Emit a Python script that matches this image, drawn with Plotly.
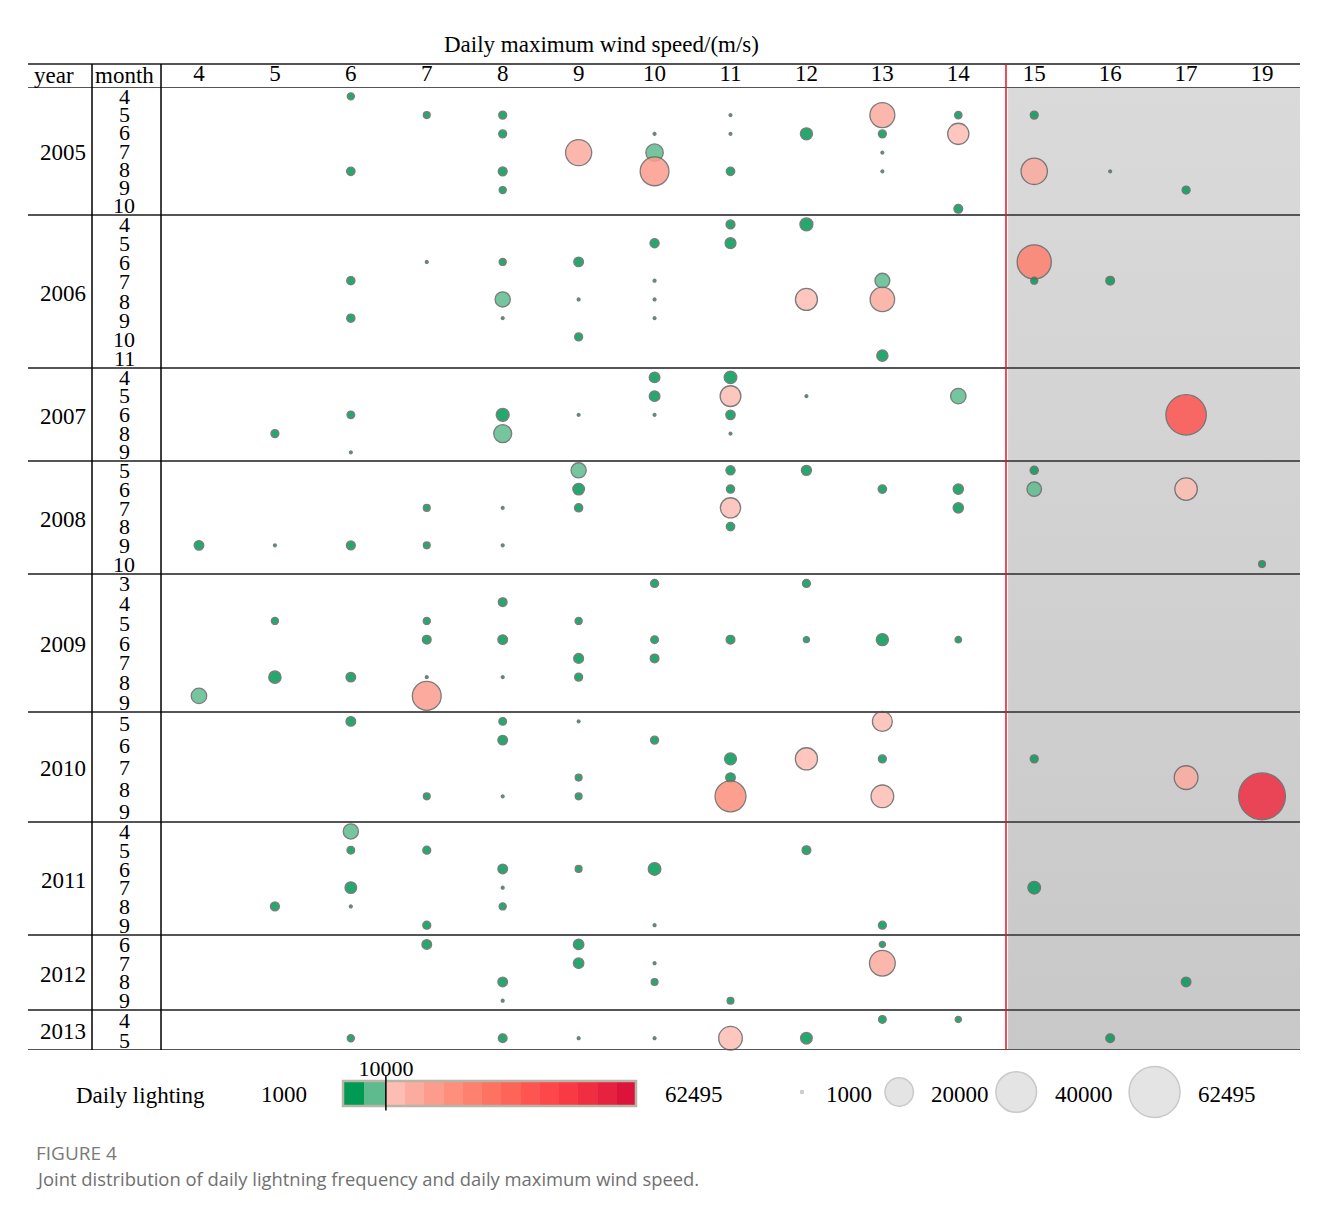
import numpy as np
import plotly.graph_objects as go

# page pixels (reference) -> figure placed with the default 8px body margin
OFF = 8
W, H = 1312, 1193

# ---------------- data ----------------
wind_speeds = [4, 5, 6, 7, 8, 9, 10, 11, 12, 13, 14, 15, 16, 17, 19]
block_years = [2005, 2006, 2007, 2008, 2009, 2010, 2011, 2012, 2013]
block_months = [
    [4, 5, 6, 7, 8, 9, 10],
    [4, 5, 6, 7, 8, 9, 10, 11],
    [4, 5, 6, 8, 9],
    [5, 6, 7, 8, 9, 10],
    [3, 4, 5, 6, 7, 8, 9],
    [5, 6, 7, 8, 9],
    [4, 5, 6, 7, 8, 9],
    [6, 7, 8, 9],
    [4, 5],
]
bubble_counts = [26, 23, 16, 22, 22, 19, 16, 11, 9]   # bubbles per year, in order
bubble_month = [
    4, 5, 5, 6, 8, 8, 9, 7, 6, 7, 8, 5, 6, 8, 6, 5, 6, 7, 8, 5, 6, 10, 5, 8, 8, 9,          # 2005
    7, 9, 6, 6, 8, 9, 6, 8, 10, 5, 7, 8, 9, 4, 5, 4, 8, 7, 8, 11, 6, 7, 7,                  # 2006
    8, 6, 9, 6, 8, 6, 4, 5, 6, 4, 5, 6, 8, 5, 5, 6,                                         # 2007
    9, 9, 9, 7, 9, 7, 9, 5, 6, 7, 5, 6, 7, 8, 5, 6, 6, 7, 5, 6, 6, 10,                      # 2008
    9, 5, 8, 8, 5, 6, 8, 9, 4, 6, 8, 5, 7, 8, 3, 6, 7, 6, 3, 6, 6, 6,                       # 2009
    5, 9, 5, 6, 9, 5, 8, 9, 6, 7, 8, 9, 7, 5, 7, 9, 7, 8, 9,                                # 2010
    8, 4, 5, 7, 8, 5, 9, 6, 7, 8, 6, 6, 9, 5, 9, 7,                                         # 2011
    6, 8, 9, 6, 7, 7, 8, 9, 6, 7, 8,                                                        # 2012
    5, 5, 5, 5, 5, 5, 4, 4, 5,                                                              # 2013
]
bubble_wind = [
    6, 7, 8, 8, 6, 8, 8, 9, 10, 10, 10, 11, 11, 11, 12, 13, 13, 13, 13, 14, 14, 14, 15, 15, 16, 17,
    6, 6, 7, 8, 8, 8, 9, 9, 9, 10, 10, 10, 10, 11, 11, 12, 12, 13, 13, 13, 15, 15, 16,
    5, 6, 6, 8, 8, 9, 10, 10, 10, 11, 11, 11, 11, 12, 14, 17,
    4, 5, 6, 7, 7, 8, 8, 9, 9, 9, 11, 11, 11, 11, 12, 13, 14, 14, 15, 15, 17, 19,
    4, 5, 5, 6, 7, 7, 7, 7, 8, 8, 8, 9, 9, 9, 10, 10, 10, 11, 12, 12, 13, 14,
    6, 7, 8, 8, 8, 9, 9, 9, 10, 11, 11, 11, 12, 13, 13, 13, 15, 17, 19,
    5, 6, 6, 6, 6, 7, 7, 8, 8, 8, 9, 10, 10, 12, 13, 15,
    7, 8, 8, 9, 9, 10, 10, 11, 13, 13, 17,
    6, 8, 9, 10, 11, 12, 13, 14, 16,
]
bubble_lightning = [
    2000, 1900, 2300, 2300, 2500, 2700, 2000, 17000, 1000, 8000, 20500, 1000, 1000, 2500, 4300,
    15500, 2300, 1000, 1000, 2100, 11500, 2600, 2300, 17200, 1000, 2300,
    2400, 2400, 1000, 2000, 6300, 1000, 3000, 1000, 2300, 2800, 1000, 1000, 1000, 2700, 3600,
    4800, 12300, 6000, 15000, 3800, 28500, 2000, 2600,
    2300, 2200, 1000, 4800, 8500, 1000, 3500, 3500, 1000, 4600, 11000, 2900, 1000, 1000, 6500, 39500,
    3000, 1000, 2700, 1900, 1900, 1000, 1000, 6300, 4000, 2400, 2800, 2400, 10500, 2500, 3200,
    2500, 3300, 3300, 2400, 5800, 12800, 1900,
    6500, 2000, 4400, 3000, 2000, 2600, 1000, 20500, 2600, 3000, 1000, 2000, 3100, 2300, 2300,
    2200, 2600, 2600, 2300, 1700, 4300, 1800,
    3000, 1900, 2200, 3000, 1000, 1000, 1900, 1900, 2300, 4200, 3000, 23500, 12500, 10200, 2300,
    13000, 2300, 14200, 52700,
    2700, 6300, 2200, 4000, 1000, 2300, 2300, 3000, 1000, 2000, 1900, 4600, 1000, 2600, 2300, 4600,
    3000, 3000, 1000, 3400, 3400, 1000, 1900, 1900, 1700, 16500, 3000,
    2000, 2600, 1000, 1000, 14000, 4000, 2200, 1700, 2600,
]
bubble_year = [yr for yr, n in zip(block_years, bubble_counts) for _ in range(n)]

legend_sizes = [1000, 20000, 40000, 62495]
color_min, color_max, color_tick = 1000, 62495, 10000
green_edges = [1000, 5500, 10000]
n_red_bins = 13

# ---------------- styling / layout constants ----------------
SERIF = "Liberation Serif, Times New Roman, serif"
SANS = "Open Sans, Noto Sans, sans-serif"
bin_colors = ["#009a55", "#5dbb8e",
              "#fdbdb3", "#fcab9f", "#fc9c8c", "#fd8f7c", "#fe806e", "#fe7262", "#fe6458",
              "#fe5550", "#fe4748", "#f93a45", "#ef2e42", "#e62240", "#dc143c"]
block_extra = [-0.17, 0.16, -0.04, 0.03, 0.36, 0.87, 0.03, 0.0, 0.13]  # extra row-units per block
X_LEFT, X_RIGHT = 161, 1300
Y_TOP, Y_BOTTOM = 87, 1050
HEADER_TOP = 64
TABLE_LEFT = 28
YEAR_SEP_X = 92
SEPARATOR = 10.628          # red line between 14 and 15 m/s (column-index units)
SHADE_START = 10.655
SIZE_MAX = 51.0
SIZE_ZERO = 800.0
TXT = 23
LEG_START = 802.0
LEG_GAPS = [81.5, 82.5, 92.5]   # space between neighbouring legend circles (label area)
LEG_LABEL_PAD = 17


def px(x):
    return (x - OFF) / W


def py(y):
    return 1 - (y - OFF) / H


def bubble_size(v):
    v = np.asarray(v, dtype=float)
    return SIZE_MAX * np.sqrt(np.clip(v - SIZE_ZERO, 0, None) / (color_max - SIZE_ZERO))


# rows
block_heights = [len(m) + e for m, e in zip(block_months, block_extra)]
block_tops = np.concatenate([[0.0], np.cumsum(block_heights)[:-1]])
total_rows = float(sum(block_heights))
row_pos = {}
month_label_pos = []
for yr, months, top, h in zip(block_years, block_months, block_tops, block_heights):
    for i, m in enumerate(months):
        row_pos[(yr, m)] = top + 0.5 + i
        month_label_pos.append((m, top + (i + 0.5) * h / len(months)))

bx = [wind_speeds.index(w) for w in bubble_wind]
by = [row_pos[(yr, m)] for yr, m in zip(bubble_year, bubble_month)]

# discrete colour scale
color_edges = green_edges + list(np.linspace(green_edges[-1], color_max, n_red_bins + 1)[1:])
cs = []
for i, c in enumerate(bin_colors):
    lo = (color_edges[i] - color_min) / (color_max - color_min)
    hi = (color_edges[i + 1] - color_min) / (color_max - color_min)
    cs += [[lo, c], [hi, c]]
cs[0][0] = 0.0
cs[-1][0] = 1.0
bin_centers = [(color_edges[i] + color_edges[i + 1]) / 2 for i in range(len(bin_colors))]

fig = go.Figure()

# shaded region (gradient)
fig.add_trace(go.Scatter(
    x=[SHADE_START, len(wind_speeds) - 0.5, len(wind_speeds) - 0.5, SHADE_START, SHADE_START],
    y=[0, 0, total_rows, total_rows, 0],
    mode="none", fill="toself",
    fillgradient=dict(type="vertical", colorscale=[[0, "#dadada"], [1, "#c8c8c8"]],
                      start=0, stop=total_rows),
    hoverinfo="skip", showlegend=False))

# bubbles
fig.add_trace(go.Scatter(
    x=bx, y=by, mode="markers",
    marker=dict(size=bubble_size(bubble_lightning), color=bubble_lightning, colorscale=cs,
                cmin=color_min, cmax=color_max, opacity=0.85,
                line=dict(color="#666666", width=1.3)),
    cliponaxis=False, showlegend=False,
    customdata=np.stack([bubble_year, bubble_month, bubble_lightning], axis=1),
    hovertemplate="%{customdata[0]}-%{customdata[1]}<br>wind %{x}<br>lightning %{customdata[2]}<extra></extra>"))

# colour bar as heatmap
fig.add_trace(go.Heatmap(
    x=color_edges, y=[0], z=[bin_centers], colorscale=cs, zmin=color_min, zmax=color_max,
    showscale=False, xaxis="x2", yaxis="y2", hoverinfo="skip"))

# size legend (page-pixel axes)
leg_r = bubble_size(legend_sizes) / 2
leg_x = [LEG_START]
for i in range(1, len(legend_sizes)):
    leg_x.append(leg_x[-1] + leg_r[i - 1] + LEG_GAPS[i - 1] + leg_r[i])
fig.add_trace(go.Scatter(
    x=leg_x, y=[1092] * len(legend_sizes), mode="markers",
    marker=dict(size=bubble_size(legend_sizes), color="#d9d9d9", line=dict(color="#b3b3b3", width=1.5)),
    xaxis="x3", yaxis="y3", cliponaxis=False, showlegend=False, hoverinfo="skip"))

annotations = []


def ann(text, x, y, size=TXT, xanchor="center", font=SERIF, color="black", xref="paper", yref="paper"):
    annotations.append(dict(text=text, x=x, y=y, xref=xref, yref=yref, showarrow=False,
                            xanchor=xanchor, yanchor="middle", borderpad=0,
                            font=dict(family=font, size=size, color=color)))


ann("Daily maximum wind speed/(m/s)", px(601), py(45))
ann("year", px(54), py(76))
ann("month", px(124), py(76))
for yr, top, h in zip(block_years, block_tops, block_heights):
    ann(str(yr), px(63), top + h / 2 + 0.1, yref="y")
for m, yv in month_label_pos:
    ann(str(m), px(124), yv, size=22, yref="y")

ann("Daily lighting", px(140), py(1095))
ann(f"{color_min}", px(284), py(1094))
ann(f"{color_max}", px(694), py(1094))
for v, x, r in zip(legend_sizes, leg_x, leg_r):
    ann(str(v), x + r + LEG_LABEL_PAD + (5 if v == legend_sizes[0] else 0), 1094,
        xanchor="left", xref="x3", yref="y3")

ann("FIGURE 4", px(35), py(1153), size=19, xanchor="left", font=SANS, color="#7a7a7a")
ann("Joint distribution of daily lightning frequency and daily maximum wind speed.",
    px(35), py(1178), size=18.4, xanchor="left", font=SANS, color="#707070")

shapes = []
LINE_GRAY = "#555555"
# horizontal table lines
shapes.append(dict(type="line", xref="paper", yref="paper", x0=px(TABLE_LEFT), x1=px(X_RIGHT),
                   y0=py(HEADER_TOP), y1=py(HEADER_TOP), line=dict(color=LINE_GRAY, width=2)))
for yv in [0.0] + list(np.cumsum(block_heights)):
    shapes.append(dict(type="line", xref="paper", yref="y", x0=px(TABLE_LEFT), x1=px(X_RIGHT),
                       y0=yv, y1=yv, line=dict(color=LINE_GRAY, width=2)))
# vertical separators
for xv in [YEAR_SEP_X, X_LEFT]:
    shapes.append(dict(type="line", xref="paper", yref="paper", x0=px(xv), x1=px(xv),
                       y0=py(Y_BOTTOM), y1=py(HEADER_TOP), line=dict(color="black", width=1.5)))
# red threshold line
shapes.append(dict(type="line", xref="x", yref="paper", x0=SEPARATOR, x1=SEPARATOR,
                   y0=py(Y_BOTTOM), y1=py(HEADER_TOP), line=dict(color="#e8141c", width=1.5)))
# colour bar border and tick
shapes.append(dict(type="rect", xref="x2 domain", yref="y2 domain", x0=0, x1=1, y0=0, y1=1,
                   line=dict(color="#b8b4a8", width=2.5)))
shapes.append(dict(type="line", xref="x2", yref="y2 domain", x0=color_tick, x1=color_tick,
                   y0=-0.18, y1=1.2, line=dict(color="black", width=1.5)))

fig.update_layout(
    width=W, height=H, autosize=False,
    margin=dict(l=0, r=0, t=0, b=0),
    paper_bgcolor="white", plot_bgcolor="rgba(0,0,0,0)",
    showlegend=False,
    xaxis=dict(domain=[px(X_LEFT), px(X_RIGHT)], range=[-0.5, len(wind_speeds) - 0.5],
               side="top", tickvals=list(range(len(wind_speeds))),
               ticktext=[str(w) for w in wind_speeds], ticks="", showgrid=False, zeroline=False,
               showline=False, tickfont=dict(family=SERIF, size=TXT, color="black"),
               anchor="y", fixedrange=True),
    yaxis=dict(domain=[py(Y_BOTTOM), py(Y_TOP)], range=[total_rows, 0], showgrid=False,
               zeroline=False, showticklabels=False, showline=False, fixedrange=True),
    xaxis2=dict(domain=[px(343), px(636)], range=[color_min, color_max], anchor="y2", side="top",
                tickvals=[color_tick], ticktext=[str(color_tick)], ticks="", showgrid=False,
                zeroline=False, showline=False, tickfont=dict(family=SERIF, size=22, color="black"),
                fixedrange=True),
    yaxis2=dict(domain=[py(1106), py(1081)], range=[-0.5, 0.5], anchor="x2", visible=False,
                fixedrange=True),
    xaxis3=dict(domain=[0, 1], range=[OFF, OFF + W], anchor="y3", visible=False, fixedrange=True),
    yaxis3=dict(domain=[0, 1], range=[OFF + H, OFF], anchor="x3", visible=False, fixedrange=True),
    annotations=annotations,
    shapes=shapes,
)

fig.write_html("out.html")
